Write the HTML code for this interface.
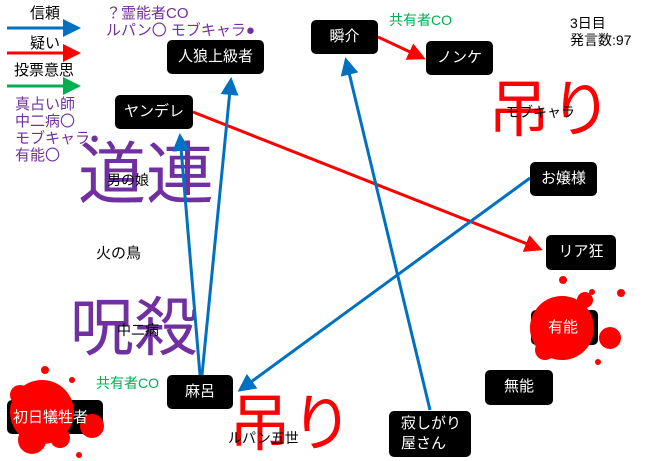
<!DOCTYPE html>
<html><head><meta charset="utf-8"><style>
body{margin:0;width:660px;height:461px;background:#fff;position:relative;overflow:hidden;font-family:"Liberation Sans","Noto Sans CJK JP",sans-serif}
.t{position:absolute;white-space:nowrap;line-height:1}
.n{position:absolute;background:#000;color:#fff;border-radius:5px;display:flex;align-items:center;justify-content:center;font-size:15px;text-align:center;line-height:1.35}
svg{position:absolute;left:0;top:0}
</style></head><body>
<div class="t" style="left:30px;top:6px;font-size:15px">信頼</div>
<div class="t" style="left:30px;top:36px;font-size:15px">疑い</div>
<div class="t" style="left:14px;top:63px;font-size:15px">投票意思</div>
<div class="t" style="left:15px;top:96px;font-size:15px;color:#7030a0;line-height:17px">真占い師<br>中二病〇<br>モブキャラ●<br>有能〇</div>
<div class="t" style="left:106px;top:5px;font-size:15px;color:#7030a0;line-height:17px">？霊能者CO<br>ルパン〇 モブキャラ●</div>
<div class="t" style="left:389px;top:13px;font-size:14px;color:#00b050">共有者CO</div>
<div class="t" style="left:570px;top:15px;font-size:14px;line-height:17px">3日目<br>発言数:97</div>
<div class="t" style="left:78px;top:141px;font-size:68px;color:#7030a0">道連</div>
<div class="t" style="left:70px;top:296px;font-size:64px;color:#7030a0">呪殺</div>
<div class="t" style="left:488px;top:80px;font-size:62px;color:#f00">吊り</div>
<div class="t" style="left:229px;top:394px;font-size:62px;color:#f00">吊り</div>
<div class="t" style="left:107px;top:173px;font-size:14px">男の娘</div>
<div class="t" style="left:96px;top:246px;font-size:15px">火の鳥</div>
<div class="t" style="left:117px;top:323px;font-size:14px">中二病</div>
<div class="t" style="left:228px;top:431px;font-size:14px">ルパン五世</div>
<div class="t" style="left:505px;top:105px;font-size:14px">モブキャラ</div>
<div class="t" style="left:96px;top:376px;font-size:14px;color:#00b050">共有者CO</div>

<svg width="660" height="461">
<defs>
<marker id="b" markerWidth="6" markerHeight="6" refX="5" refY="3" orient="auto" markerUnits="strokeWidth"><path d="M0,0L6,3L0,6z" fill="#0070c0"/></marker>
<marker id="r" markerWidth="6" markerHeight="6" refX="5" refY="3" orient="auto" markerUnits="strokeWidth"><path d="M0,0L6,3L0,6z" fill="#f00"/></marker>
<marker id="g" markerWidth="6" markerHeight="6" refX="5" refY="3" orient="auto" markerUnits="strokeWidth"><path d="M0,0L6,3L0,6z" fill="#00b050"/></marker>
</defs>
<line x1="7" y1="28" x2="78" y2="28" stroke="#0070c0" stroke-width="3" marker-end="url(#b)"/>
<line x1="7" y1="53" x2="78" y2="53" stroke="#f00" stroke-width="3" marker-end="url(#r)"/>
<line x1="7" y1="86" x2="78" y2="86" stroke="#00b050" stroke-width="3" marker-end="url(#g)"/>
<line x1="193" y1="112" x2="540" y2="249" stroke="#f00" stroke-width="3" marker-end="url(#r)"/>
<line x1="378" y1="37" x2="423" y2="58" stroke="#f00" stroke-width="3" marker-end="url(#r)"/>
<line x1="202" y1="375" x2="231" y2="80" stroke="#0070c0" stroke-width="3" marker-end="url(#b)"/>
<line x1="200" y1="375" x2="180" y2="136" stroke="#0070c0" stroke-width="3" marker-end="url(#b)"/>
<line x1="430" y1="410" x2="346" y2="60" stroke="#0070c0" stroke-width="3" marker-end="url(#b)"/>
<line x1="530" y1="178" x2="240" y2="390" stroke="#0070c0" stroke-width="3" marker-end="url(#b)"/>
</svg>

<div class="n" style="left:167px;top:40px;width:97px;height:34px">人狼上級者</div>
<div class="n" style="left:115px;top:95px;width:78px;height:34px">ヤンデレ</div>
<div class="n" style="left:311px;top:20px;width:67px;height:34px">瞬介</div>
<div class="n" style="left:426px;top:41px;width:67px;height:34px">ノンケ</div>
<div class="n" style="left:530px;top:162px;width:67px;height:34px">お嬢様</div>
<div class="n" style="left:546px;top:235px;width:70px;height:35px">リア狂</div>
<div class="n" style="left:531px;top:310px;width:67px;height:35px">有能</div>
<div class="n" style="left:485px;top:370px;width:68px;height:35px">無能</div>
<div class="n" style="left:389px;top:411px;width:82px;height:46px;justify-content:flex-start;padding-left:12px;box-sizing:border-box;text-align:left">寂しがり<br>屋さん</div>
<div class="n" style="left:167px;top:375px;width:66px;height:34px">麻呂</div>
<div class="n" style="left:7px;top:400px;width:96px;height:34px"></div>

<svg width="660" height="461">
<g fill="#f00">
<circle cx="42" cy="412" r="32"/><circle cx="92" cy="426" r="12"/><circle cx="45" cy="370" r="4"/><circle cx="72" cy="380" r="3"/><circle cx="79" cy="455" r="3"/><circle cx="20" cy="395" r="10"/><circle cx="32" cy="440" r="14"/><circle cx="60" cy="438" r="10"/>
<circle cx="562" cy="328" r="32"/><circle cx="610" cy="338" r="11"/><circle cx="563" cy="280" r="4"/><circle cx="592" cy="292" r="3"/><circle cx="621" cy="293" r="4"/><circle cx="598" cy="362" r="3"/><circle cx="585" cy="300" r="8"/><circle cx="545" cy="350" r="10"/>
</g>
</svg>
<div class="t" style="left:13px;top:410px;font-size:15px;color:#fff">初日犠牲者</div>
<div class="t" style="left:548px;top:320px;font-size:15px;color:#fff">有能</div>
</body></html>
